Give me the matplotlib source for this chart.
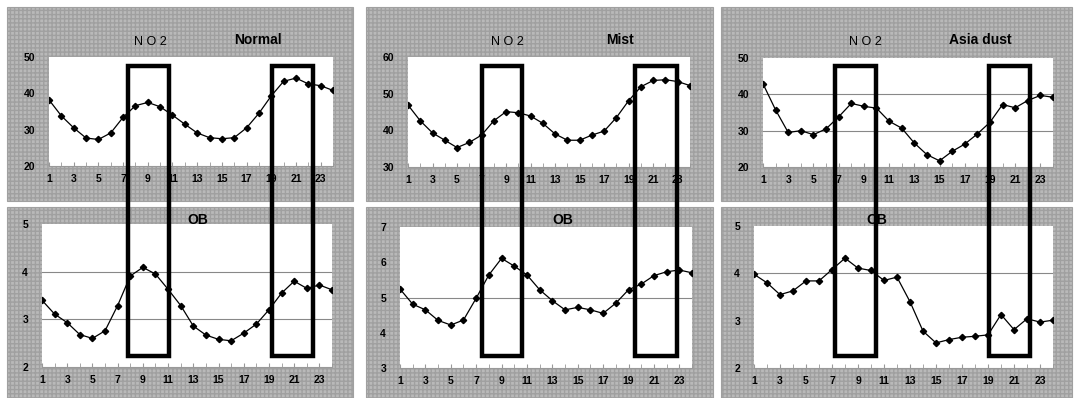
import numpy as np
import matplotlib
matplotlib.use("Agg")
from matplotlib import pyplot as plt
from matplotlib.patches import Rectangle
from matplotlib.transforms import blended_transform_factory

plt.rcParams['font.family'] = ['Liberation Sans', 'DejaVu Sans']
plt.rcParams['hatch.color'] = '#9a9a9a'

hours = np.arange(1, 25)
xtick_labels = [1, 3, 5, 7, 9, 11, 13, 15, 17, 19, 21, 23]

# NO2 hourly means
no2_normal = [38.2, 33.8, 30.5, 27.7, 27.3, 29.1, 33.4, 36.6, 37.5, 36.3, 34.0, 31.5,
              29.1, 27.8, 27.5, 27.8, 30.5, 34.5, 39.3, 43.3, 44.2, 42.6, 42.1, 40.8]
no2_mist = [46.9, 42.6, 39.3, 37.3, 35.3, 36.7, 38.7, 42.6, 45.1, 44.8, 43.9, 41.9,
            39.0, 37.3, 37.3, 38.7, 39.8, 43.5, 48.1, 51.9, 53.6, 53.8, 53.3, 52.2]
no2_dust = [42.9, 35.7, 29.5, 30.0, 28.9, 30.5, 33.8, 37.5, 36.7, 36.2, 32.6, 30.7,
            26.6, 23.4, 21.7, 24.3, 26.3, 29.1, 32.3, 37.2, 36.3, 38.3, 39.7, 39.2]

# OB hourly means
ob_normal = [3.40, 3.11, 2.93, 2.68, 2.60, 2.76, 3.29, 3.91, 4.09, 3.95, 3.63, 3.29,
             2.86, 2.67, 2.58, 2.55, 2.71, 2.90, 3.20, 3.55, 3.80, 3.65, 3.72, 3.62]
ob_mist = [5.24, 4.81, 4.65, 4.35, 4.22, 4.36, 4.98, 5.64, 6.11, 5.89, 5.64, 5.22,
           4.91, 4.65, 4.72, 4.65, 4.55, 4.84, 5.22, 5.38, 5.62, 5.73, 5.78, 5.70]
ob_dust = [3.98, 3.80, 3.55, 3.63, 3.84, 3.84, 4.08, 4.32, 4.11, 4.06, 3.85, 3.92,
           3.40, 2.78, 2.53, 2.60, 2.65, 2.67, 2.70, 3.13, 2.81, 3.04, 2.97, 3.01]

conditions = ['Normal', 'Mist', 'Asia dust']
no2_series = [no2_normal, no2_mist, no2_dust]
ob_series = [ob_normal, ob_mist, ob_dust]
no2_lims = [(20, 50), (30, 60), (20, 50)]
ob_lims = [(2, 5), (3, 7), (2, 5)]
no2_grid = [[], [], [30, 40]]
ob_grid = [[3, 4], [5], [4]]
# highlighted hour windows (morning, evening) per condition
windows = [[(7.4, 10.7), (19.1, 22.4)],
           [(7.0, 10.3), (19.5, 22.9)],
           [(6.7, 10.0), (18.9, 22.2)]]

W, H = 1075, 398
fig = plt.figure(figsize=(W / 100, H / 100), dpi=100)
fig.patch.set_facecolor('white')


def fbox(x0, y0, x1, y1):
    # pixel box (top-left origin) -> figure fraction [l, b, w, h]
    return [x0 / W, 1 - y1 / H, (x1 - x0) / W, (y1 - y0) / H]


# layout in pixels
panels = [
    dict(gray_top=(7, 7, 353, 201), gray_bot=(7, 207, 353, 398),
         ax_top=(49, 57, 333, 166), ax_bot=(42, 224, 332, 367),
         no2_x=150, cond_x=258, ob_x=198),
    dict(gray_top=(366, 7, 713, 201), gray_bot=(366, 207, 713, 398),
         ax_top=(408, 57, 690, 167), ax_bot=(400, 227, 692, 368),
         no2_x=507, cond_x=620, ob_x=563),
    dict(gray_top=(721, 7, 1072, 201), gray_bot=(721, 207, 1072, 398),
         ax_top=(763, 58, 1053, 167), ax_bot=(754, 226, 1053, 368),
         no2_x=865, cond_x=980, ob_x=877),
]

gray = '#b9b9b9'


def style_axis(ax, lims, grid_vals):
    ax.set_facecolor('white')
    ax.set_xlim(1, 24)
    ax.set_ylim(*lims)
    ax.set_yticks(np.arange(lims[0], lims[1] + 1, 10 if lims[1] > 10 else 1))
    ax.set_xticks(xtick_labels)
    ax.set_xticks(hours, minor=True)
    ax.tick_params(axis='x', which='both', direction='in', length=3, color='#999999',
                   labelsize=7.5, pad=6)
    ax.tick_params(axis='y', length=0, labelsize=7.5, pad=10)
    for lab in ax.get_xticklabels() + ax.get_yticklabels():
        lab.set_fontweight('bold')
    for s in ['top', 'right', 'left']:
        ax.spines[s].set_visible(False)
    ax.spines['bottom'].set_color('#999999')
    ax.spines['bottom'].set_linewidth(0.8)
    for g in grid_vals:
        ax.axhline(g, color='#888888', lw=0.8, zorder=1)


for i, p in enumerate(panels):
    for key in ['gray_top', 'gray_bot']:
        l, b, w, h = fbox(*p[key])
        fig.patches.append(Rectangle((l, b), w, h, transform=fig.transFigure,
                                     facecolor=gray, edgecolor='#a0a0a0', lw=0.8,
                                     hatch='++++', zorder=-5))
    ax1 = fig.add_axes(fbox(*p['ax_top']))
    ax2 = fig.add_axes(fbox(*p['ax_bot']))
    style_axis(ax1, no2_lims[i], no2_grid[i])
    style_axis(ax2, ob_lims[i], ob_grid[i])
    ax1.plot(hours, no2_series[i], color='black', lw=0.9, marker='D', ms=3.2, zorder=3)
    ax2.plot(hours, ob_series[i], color='black', lw=0.9, marker='D', ms=3.2, zorder=3)

    fig.text(p['no2_x'] / W, 1 - 42 / H, 'N O 2', ha='center', va='center', fontsize=9)
    fig.text(p['cond_x'] / W, 1 - 40 / H, conditions[i], ha='center', va='center',
             fontsize=10, fontweight='bold')
    fig.text(p['ob_x'] / W, 1 - 220 / H, 'OB', ha='center', va='center',
             fontsize=10, fontweight='bold')

    trans = blended_transform_factory(ax1.transData, fig.transFigure)
    for (h0, h1) in windows[i]:
        r = Rectangle((h0, 1 - 356 / H), h1 - h0, (356 - 66) / H, transform=trans,
                      fill=False, edgecolor='black', lw=3.2, zorder=10,
                      clip_on=False)
        fig.patches.append(r)

fig.savefig('out.png', dpi=100)
